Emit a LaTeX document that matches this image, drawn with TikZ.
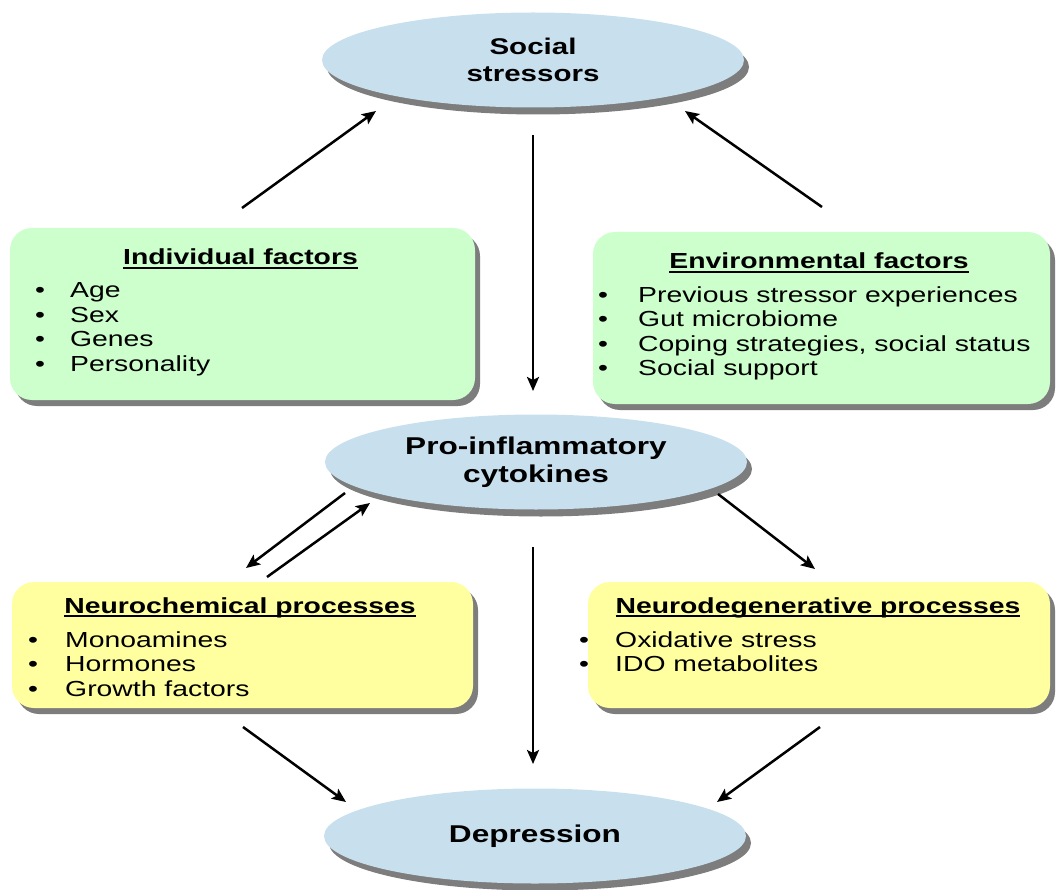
\documentclass[tikz,border=0pt]{standalone}
\usepackage{fontspec}
\setmainfont{Liberation Sans}
\usepackage{graphicx}
\usetikzlibrary{shapes.geometric, shadows, arrows.meta}

\definecolor{ellblue}{RGB}{200,224,238}
\definecolor{boxgreen}{RGB}{204,255,204}
\definecolor{boxyellow}{RGB}{255,255,160}
\definecolor{shadowgray}{RGB}{125,125,125}

% slide text is set wide
\newcommand\wide[1]{\scalebox{1.3}[1]{#1}}
% underlined heading
\newcommand\ulined[1]{\setbox0\hbox{#1}\rlap{\rule[-4pt]{\wd0}{1.7pt}}\box0}
% bullet item with a fixed bullet column
\newcommand\bul[2]{\makebox[#1][l]{\textbullet}#2}

\begin{document}
\begin{tikzpicture}[x=1pt, y=-1pt,
  ell/.style={ellipse, fill=ellblue, minimum width=422pt, minimum height=95pt,
    inner sep=0pt, align=center, font=\fontsize{24.3}{27.5}\selectfont\bfseries,
    drop shadow={shadow xshift=5pt, shadow yshift=-7pt, fill=shadowgray, opacity=1}},
  panel/.style={rectangle, rounded corners=22pt, inner sep=0pt,
    drop shadow={shadow xshift=5pt, shadow yshift=-6pt, fill=shadowgray, opacity=1}},
  greenpanel/.style={panel, fill=boxgreen},
  yellowpanel/.style={panel, fill=boxyellow},
  head/.style={inner sep=0pt, anchor=base, font=\fontsize{21.8}{24}\selectfont\bfseries},
  items/.style={inner sep=0pt, anchor=base west, font=\fontsize{21.8}{24.5}\selectfont},
  arr/.style={line width=2.5pt, -{Stealth[length=14pt,width=12pt,inset=3pt]}}]

\fill[white] (0,0) rectangle (1056,890);
\useasboundingbox (0,0) rectangle (1056,890);

% ellipses
\node[ell, font=\fontsize{22.7}{27.5}\selectfont\bfseries] (soc) at (533,60) {\wide{Social}\\\wide{stressors}};
\node[ell] (pro) at (536,462) {\wide{Pro-inflammatory}\\\wide{cytokines}};
\node[ell] (dep) at (535,836) {\wide{Depression}};

% factor panels
\node[greenpanel, minimum width=465pt, minimum height=172pt] (ind) at (242.5,314) {};
\node[greenpanel, minimum width=457pt, minimum height=172pt] (env) at (821.5,318) {};
\node[yellowpanel, minimum width=461pt, minimum height=126pt] (nch) at (242.5,645) {};
\node[yellowpanel, minimum width=462pt, minimum height=126pt] (ndg) at (819,645) {};

% panel headings
\node[head] (indhead) at (240.5,265) {\wide{\ulined{Individual factors}}};
\node[head] (envhead) at (819,269) {\wide{\ulined{Environmental factors}}};
\node[head] (nchhead) at (240,613) {\wide{\ulined{Neurochemical processes}}};
\node[head] (ndghead) at (818,613) {\wide{\ulined{Neurodegenerative processes}}};

% panel lists
\node[items] (indlist) at (35,298) {\wide{\begin{tabular}[t]{@{}l@{}}
  \bul{26.9pt}{Age}\\ \bul{26.9pt}{Sex}\\ \bul{26.9pt}{Genes}\\ \bul{26.9pt}{Personality}\end{tabular}}};
\node[items] (envlist) at (598,302) {\wide{\begin{tabular}[t]{@{}l@{}}
  \bul{30.8pt}{Previous stressor experiences}\\ \bul{30.8pt}{Gut microbiome}\\
  \bul{30.8pt}{Coping strategies, social status}\\ \bul{30.8pt}{Social support}\end{tabular}}};
\node[items] (nchlist) at (28,647) {\wide{\begin{tabular}[t]{@{}l@{}}
  \bul{28.5pt}{Monoamines}\\ \bul{28.5pt}{Hormones}\\ \bul{28.5pt}{Growth factors}\end{tabular}}};
\node[items] (ndglist) at (579,647) {\wide{\begin{tabular}[t]{@{}l@{}}
  \bul{27.7pt}{Oxidative stress}\\ \bul{27.7pt}{IDO metabolites}\end{tabular}}};

% arrow ends
\coordinate (indup) at (242,208);   \coordinate (socL) at (376,111);
\coordinate (envup) at (822,207);   \coordinate (socR) at (685,111);
\coordinate (socdn) at (533,135);   \coordinate (protop) at (533,391);
\coordinate (proL1) at (345,493);   \coordinate (nchin) at (246,568);
\coordinate (nchout) at (267,577);  \coordinate (proL2) at (370,503);
\coordinate (proR) at (718,494);    \coordinate (ndgin) at (815,569);
\coordinate (prodn) at (533,547);   \coordinate (deptop) at (533,764);
\coordinate (nchdn) at (243,727);   \coordinate (depL) at (346,802);
\coordinate (ndgdn) at (820,727);   \coordinate (depR) at (717,802);

\draw[arr] (indup) -- (socL);
\draw[arr] (envup) -- (socR);
\draw[arr] (socdn) -- (protop);
\draw[arr] (proL1) -- (nchin);
\draw[arr] (nchout) -- (proL2);
\draw[arr] (proR) -- (ndgin);
\draw[arr] (prodn) -- (deptop);
\draw[arr] (nchdn) -- (depL);
\draw[arr] (ndgdn) -- (depR);
\end{tikzpicture}
\end{document}
